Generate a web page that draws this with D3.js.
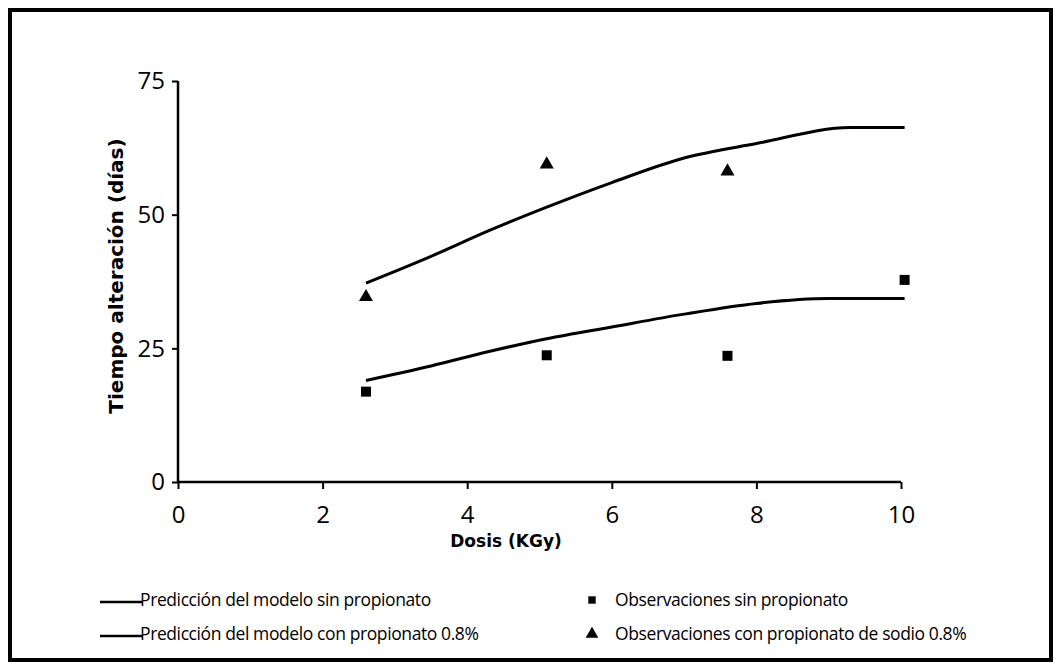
<!DOCTYPE html>
<meta charset="utf-8">
<script src="https://d3js.org/d3.v7.min.js"></script>
<style>
  body { margin: 0; background: #fff; }
</style>
<div id="dataviz"></div>
<script>

// model curves (dose KGy, days)
var modelSinX = [2.6, 3.5, 4.3, 5.1, 6, 7, 8, 9, 10.05];
var modelSinY = [19, 21.7, 24.4, 26.8, 29, 31.4, 33.4, 34.3, 34.3];
var modelConX = [2.6, 3.5, 4.3, 5.1, 6, 7, 8, 9.3, 10.05];
var modelConY = [37.2, 42.2, 47, 51.4, 56, 60.6, 63.3, 66.3, 66.3];

// observations
var obsSinX = [2.6, 5.1, 7.6, 10.05];
var obsSinY = [16.9, 23.7, 23.6, 37.8];
var obsConX = [2.6, 5.1, 7.6];
var obsConY = [34.6, 59.4, 58.1];

var xTicks = [0, 2, 4, 6, 8, 10];
var yTicks = [0, 25, 50, 75];

var legendLines = ["Predicción del modelo sin propionato", "Predicción del modelo con propionato 0.8%"];
var legendMarks = ["Observaciones sin propionato", "Observaciones con propionato de sodio 0.8%"];

var W = 1061, H = 670;
var svg = d3.select("#dataviz")
  .append("svg")
    .attr("width", W)
    .attr("height", H);

// frame
svg.append("rect")
  .attr("x", 10).attr("y", 10)
  .attr("width", 1041).attr("height", 650)
  .attr("fill", "none")
  .attr("stroke", "#000")
  .attr("stroke-width", 4);

var x = d3.scaleLinear().domain([0, 10]).range([178, 901]);
var y = d3.scaleLinear().domain([0, 75]).range([482, 81]);

var tickFont = "'Open Sans', sans-serif";

// x axis
var gx = svg.append("g")
  .attr("transform", "translate(0," + y(0) + ")")
  .call(d3.axisBottom(x).tickValues(xTicks).tickSize(7).tickPadding(17).tickFormat(d3.format("d")));
gx.select(".domain").attr("stroke-width", 2.5).attr("d", "M" + x(0) + ",0H" + x(10));
gx.selectAll("line").attr("stroke-width", 2);
gx.selectAll("text").style("font-family", tickFont).style("font-size", "24px").attr("fill", "#000");

// y axis
var gy = svg.append("g")
  .attr("transform", "translate(" + x(0) + ",0)")
  .call(d3.axisLeft(y).tickValues(yTicks).tickSize(6).tickPadding(7));
gy.select(".domain").attr("stroke-width", 2.5).attr("d", "M0," + y(75) + "V" + y(0));
gy.selectAll("line").attr("stroke-width", 2);
gy.selectAll("text").style("font-family", tickFont).style("font-size", "24px").attr("fill", "#000");

// axis titles
svg.append("text")
  .attr("x", 506)
  .attr("y", 541)
  .attr("dy", "0.35em")
  .attr("text-anchor", "middle")
  .style("font-family", "'DejaVu Sans', sans-serif")
  .style("font-weight", "bold")
  .style("font-size", "17px")
  .text("Dosis (KGy)");

svg.append("text")
  .attr("transform", "translate(116,276) rotate(-90)")
  .attr("dy", "0.35em")
  .attr("text-anchor", "middle")
  .style("font-family", "'DejaVu Sans', sans-serif")
  .style("font-weight", "bold")
  .style("font-size", "20px")
  .text("Tiempo alteración (días)");

// model lines
var line = d3.line()
  .x(function(d) { return x(d[0]); })
  .y(function(d) { return y(d[1]); })
  .curve(d3.curveMonotoneX);

var sinData = modelSinX.map(function(v, i) { return [v, modelSinY[i]]; });
var conData = modelConX.map(function(v, i) { return [v, modelConY[i]]; });

[sinData, conData].forEach(function(dat) {
  svg.append("path")
    .datum(dat)
    .attr("fill", "none")
    .attr("stroke", "#000")
    .attr("stroke-width", 3)
    .attr("d", line);
});

// observations
var sq = d3.symbol().type(d3.symbolSquare).size(100);
var tri = d3.symbol().type(d3.symbolTriangle).size(85);

svg.selectAll(".sq")
  .data(obsSinX)
  .enter().append("path")
    .attr("class", "sq")
    .attr("d", sq)
    .attr("transform", function(d, i) { return "translate(" + x(d) + "," + y(obsSinY[i]) + ")"; })
    .attr("fill", "#000");

svg.selectAll(".tri")
  .data(obsConX)
  .enter().append("path")
    .attr("class", "tri")
    .attr("d", tri)
    .attr("transform", function(d, i) { return "translate(" + x(d) + "," + y(obsConY[i]) + ")"; })
    .attr("fill", "#000");

// legend
var legFont = "'Open Sans', sans-serif";
var rowY = [600, 634];

legendLines.forEach(function(t, i) {
  svg.append("line")
    .attr("x1", 100).attr("x2", 142)
    .attr("y1", rowY[i] + 2).attr("y2", rowY[i] + 2)
    .attr("stroke", "#000")
    .attr("stroke-width", 2.5);
  svg.append("text")
    .attr("x", 140)
    .attr("y", rowY[i])
    .attr("dy", "0.35em")
    .style("font-family", legFont)
    .style("font-size", "17.5px")
    .style("letter-spacing", "-0.4px")
    .text(t);
});

var legSyms = [d3.symbol().type(d3.symbolSquare).size(55), d3.symbol().type(d3.symbolTriangle).size(70)];
legendMarks.forEach(function(t, i) {
  svg.append("path")
    .attr("d", legSyms[i])
    .attr("transform", "translate(592," + rowY[i] + ")")
    .attr("fill", "#000");
  svg.append("text")
    .attr("x", 615)
    .attr("y", rowY[i])
    .attr("dy", "0.35em")
    .style("font-family", legFont)
    .style("font-size", "17.5px")
    .style("letter-spacing", "-0.4px")
    .text(t);
});

</script>
